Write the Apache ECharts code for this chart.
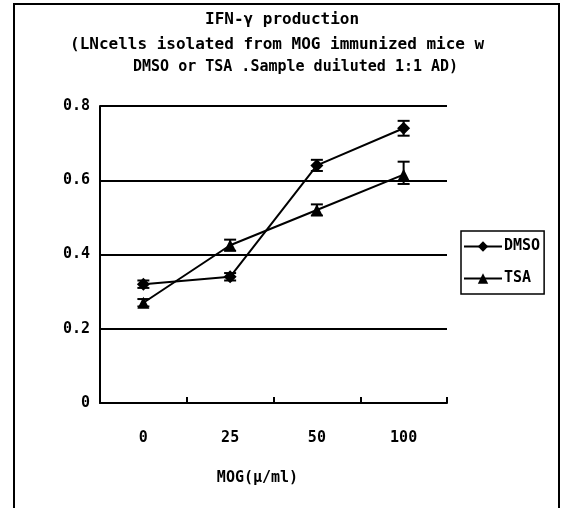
<!DOCTYPE html>
<html>
<head>
<meta charset="utf-8">
<script src="https://cdn.jsdelivr.net/npm/echarts@6/dist/echarts.min.js"></script>
<style>
  html, body { margin: 0; padding: 0; background: #fff; }
  #chart { width: 561px; height: 508px; }
</style>
</head>
<body>
<div id="chart"></div>
<script>
// MOG concentration (categories)
const doses = ['0', '25', '50', '100'];

// mean values
const dmso = [0.32, 0.34, 0.64, 0.74];
const tsa = [0.27, 0.425, 0.52, 0.615];

// error bar half-ranges (low, high)
const dmsoErrLow = [0.01, 0.01, 0.015, 0.02];
const dmsoErrHigh = [0.01, 0.01, 0.015, 0.02];
const tsaErrLow = [0.01, 0.015, 0.015, 0.025];
const tsaErrHigh = [0.01, 0.015, 0.015, 0.035];

const titleLines = [
  'IFN-γ production',
  '(LNcells isolated from MOG immunized mice w',
  'DMSO or TSA .Sample duiluted 1:1 AD)'
];

const FONT = 'DejaVu Sans Mono';

function errorData(values, low, high) {
  return values.map((v, i) => [i, v - low[i], v + high[i]]);
}

function renderError(params, api) {
  const x = api.value(0);
  const lo = api.coord([x, api.value(1)]);
  const hi = api.coord([x, api.value(2)]);
  const half = 6;
  const style = {stroke: '#000', lineWidth: 2};
  return {
    type: 'group',
    children: [
      {type: 'line', shape: {x1: lo[0], y1: lo[1], x2: hi[0], y2: hi[1]}, style},
      {type: 'line', shape: {x1: lo[0] - half, y1: lo[1], x2: lo[0] + half, y2: lo[1]}, style},
      {type: 'line', shape: {x1: hi[0] - half, y1: hi[1], x2: hi[0] + half, y2: hi[1]}, style}
    ]
  };
}

const chart = echarts.init(document.getElementById('chart'));
chart.setOption({
  animation: false,
  backgroundColor: '#fff',
  textStyle: {fontFamily: FONT, color: '#000'},
  graphic: [
    {
      type: 'rect',
      shape: {x: 14, y: 4, width: 545, height: 520},
      style: {fill: 'none', stroke: '#000', lineWidth: 2},
      silent: true
    },
    {
      type: 'text', left: 205, top: 12,
      style: {text: titleLines[0], font: 'bold 16px ' + FONT, fill: '#000'}
    },
    {
      type: 'text', left: 70, top: 37,
      style: {text: titleLines[1], font: 'bold 16px ' + FONT, fill: '#000'}
    },
    {
      type: 'text', left: 133, top: 60,
      style: {text: titleLines[2], font: 'bold 15px ' + FONT, fill: '#000'}
    }
  ],
  grid: {left: 100, right: 114, top: 106, bottom: 105},
  legend: {
    orient: 'vertical',
    left: 461,
    top: 231,
    padding: [8, 4, 8, 2],
    itemGap: 17,
    itemWidth: 38,
    itemHeight: 13,
    borderColor: '#000',
    borderWidth: 1.5,
    textStyle: {fontFamily: FONT, fontSize: 15, fontWeight: 'bold', color: '#000', padding: [0, 0, 0, -3]},
    data: ['DMSO', 'TSA']
  },
  xAxis: {
    type: 'category',
    data: doses,
    boundaryGap: true,
    name: 'MOG(μ/ml)',
    nameLocation: 'middle',
    nameGap: 68,
    nameTextStyle: {fontFamily: FONT, fontSize: 15, fontWeight: 'bold', color: '#000', padding: [0, 32, 0, 0]},
    axisLine: {lineStyle: {color: '#000', width: 2}},
    axisTick: {show: true, inside: true, length: 6, lineStyle: {color: '#000', width: 2}},
    axisLabel: {fontFamily: FONT, fontSize: 15, fontWeight: 'bold', color: '#000', margin: 28},
    splitLine: {show: false}
  },
  yAxis: {
    type: 'value',
    min: 0,
    max: 0.8,
    interval: 0.2,
    axisLine: {show: true, lineStyle: {color: '#000', width: 2}},
    axisTick: {show: false},
    axisLabel: {
      fontFamily: FONT, fontSize: 15, fontWeight: 'bold', color: '#000', margin: 10,
      formatter: v => (v === 0 ? '0' : v.toFixed(1))
    },
    splitLine: {lineStyle: {color: '#000', width: 2}}
  },
  series: [
    {
      name: 'DMSO',
      type: 'line',
      data: dmso,
      symbol: 'diamond',
      symbolSize: 13,
      itemStyle: {color: '#000'},
      lineStyle: {color: '#000', width: 2},
      z: 3
    },
    {
      name: 'TSA',
      type: 'line',
      data: tsa,
      symbol: 'triangle',
      symbolSize: 12,
      itemStyle: {color: '#000'},
      lineStyle: {color: '#000', width: 2},
      z: 3
    },
    {
      type: 'custom',
      renderItem: renderError,
      data: errorData(dmso, dmsoErrLow, dmsoErrHigh),
      encode: {x: 0, y: [1, 2]},
      z: 4
    },
    {
      type: 'custom',
      renderItem: renderError,
      data: errorData(tsa, tsaErrLow, tsaErrHigh),
      encode: {x: 0, y: [1, 2]},
      z: 4
    }
  ]
});
</script>
</body>
</html>
